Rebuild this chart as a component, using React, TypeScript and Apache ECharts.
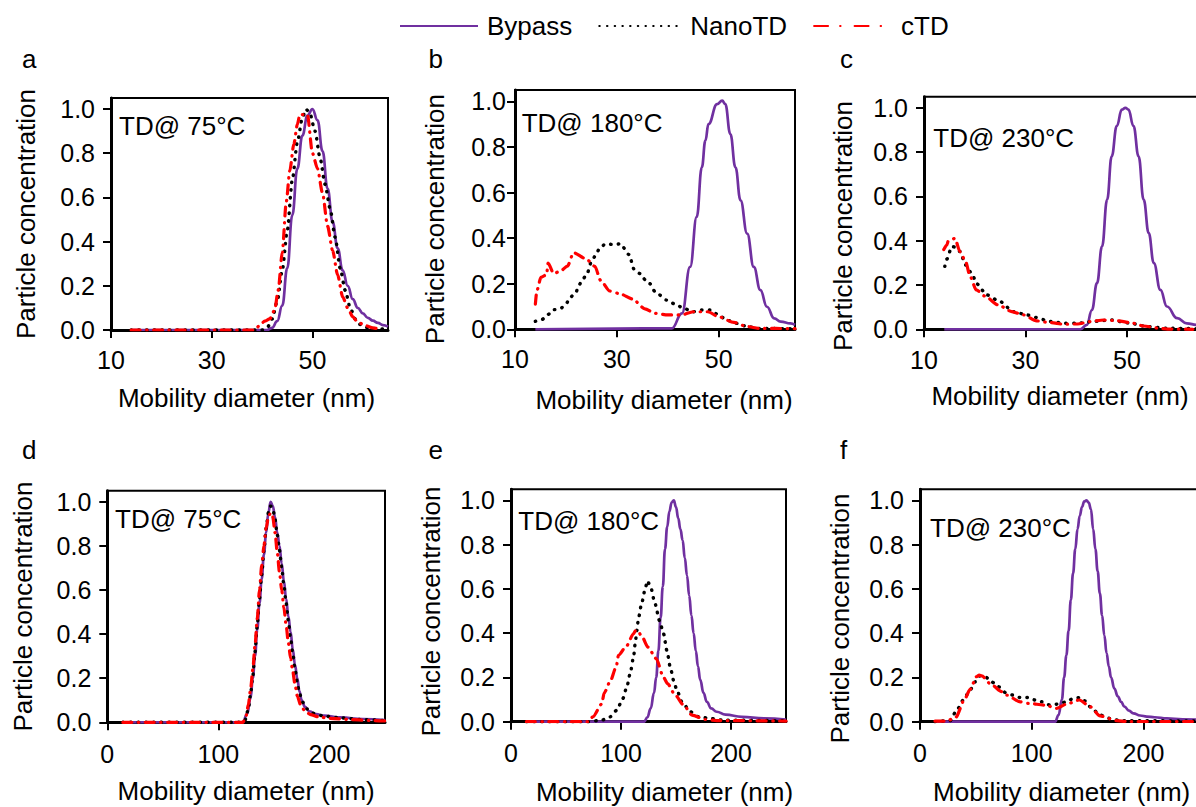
import React, { useEffect, useRef } from 'react';
import * as echarts from 'echarts';

const FONT = "'Liberation Sans', Arial, Helvetica, sans-serif";
const PURPLE = '#7030A0';
const RED = '#FF0000';

// ---- tick labels / categories ----
const seriesNames = ['Bypass', 'NanoTD', 'cTD'];
const topXTicks = [10, 30, 50];
const bottomXTicks = [0, 100, 200];
const yTicks = [0, 0.2, 0.4, 0.6, 0.8, 1.0];
const panelLetters = ['a', 'b', 'c', 'd', 'e', 'f'];
const panelNotes = ['TD@ 75°C', 'TD@ 180°C', 'TD@ 230°C', 'TD@ 75°C', 'TD@ 180°C', 'TD@ 230°C'];
const xTitle = 'Mobility diameter (nm)';
const yTitle = 'Particle concentration';

// ---- panel a (TD 75°C, ~50 nm) ----
const bypassA = [[14,0],[41,0],[42,0.01],[43,0.04],[44,0.11],[45,0.28],[46,0.52],[47,0.73],[48,0.88],[49,0.97],[50,1.0],[51,0.95],[52,0.81],[53,0.64],[54,0.49],[55,0.37],[56,0.27],[57,0.2],[58,0.14],[59,0.1],[60,0.075],[61,0.055],[62,0.042],[63,0.032],[64,0.022],[65,0.015]];
const nanoA = [[14,0],[40,0],[41,0.01],[42,0.05],[43,0.13],[44,0.27],[45,0.45],[46,0.68],[47,0.85],[48,0.96],[48.7,1.0],[49.5,0.98],[50.5,0.9],[51.5,0.78],[52.5,0.66],[53.5,0.55],[54.5,0.42],[55.5,0.28],[56.5,0.18],[57.5,0.1],[58.5,0.05],[59.5,0.025],[61,0.01],[63,0.005],[65,0.003]];
const ctdA = [[14,0],[38.5,0],[39.5,0.02],[40.5,0.04],[41.5,0.05],[42.5,0.09],[43.2,0.18],[44,0.35],[44.8,0.58],[45.5,0.72],[46.3,0.84],[47,0.93],[47.5,0.975],[49,0.975],[50,0.8],[51,0.73],[52,0.62],[53,0.47],[54,0.36],[55,0.25],[56,0.15],[57,0.1],[58,0.06],[59,0.035],[60.5,0.02],[62,0.01],[63,0.005]];

// ---- panel b (TD 180°C, ~50 nm) ----
const bypassB = [[14,0],[40.8,0.004],[42.8,0.07],[44.4,0.274],[45.7,0.493],[46.7,0.711],[47.4,0.828],[48,0.9],[49.7,0.988],[50.7,1.003],[51.3,0.988],[52.3,0.857],[53.3,0.711],[54.3,0.566],[55.6,0.42],[56.9,0.274],[58.2,0.172],[59.5,0.099],[60.9,0.048],[62.2,0.034],[64.1,0.026],[65,0.019]];
const nanoB = [[14,0.035],[15.3,0.043],[16.4,0.064],[17.6,0.086],[18.9,0.09],[20.1,0.114],[20.8,0.14],[21.9,0.158],[22.5,0.19],[23.2,0.217],[24.1,0.24],[25,0.296],[25.8,0.323],[26.6,0.355],[27.8,0.375],[29.3,0.372],[30.7,0.375],[32.4,0.328],[33.4,0.263],[34.6,0.244],[35.6,0.217],[36.5,0.2],[37.5,0.165],[39.8,0.128],[41.8,0.106],[43.1,0.092],[45,0.077],[46.7,0.085],[48.4,0.085],[50,0.063],[51.6,0.04],[53.6,0.026],[55.6,0.012],[57.9,0.004],[65,0.002]];
const ctdB = [[14,0.11],[14.3,0.17],[15.1,0.228],[16.2,0.24],[16.5,0.29],[17.6,0.245],[18.9,0.255],[20.3,0.277],[21.5,0.336],[23.9,0.31],[25.7,0.276],[26.8,0.215],[28.6,0.168],[30.6,0.156],[33.1,0.133],[35.5,0.09],[37.5,0.07],[40,0.063],[42.7,0.063],[45,0.077],[47.9,0.077],[50,0.055],[53,0.03],[55.6,0.012],[58,0.004],[65,0.003]];

// ---- panel c (TD 230°C, ~50 nm) ----
const bypassC = [[14,0],[40.8,0],[42.1,0.02],[43.1,0.087],[44.1,0.208],[45.1,0.374],[46.1,0.585],[47,0.781],[48,0.917],[49,0.992],[49.7,1.0],[50.3,0.992],[51.3,0.917],[52.3,0.781],[53.3,0.585],[54.3,0.434],[55.3,0.299],[56.6,0.178],[57.9,0.103],[59.9,0.05],[61.8,0.027],[63.8,0.02],[65,0.018]];
const nanoC = [[14.1,0.284],[14.5,0.317],[15.5,0.374],[16.3,0.37],[17.1,0.351],[18.2,0.29],[19.4,0.253],[20.4,0.205],[22.4,0.155],[25,0.125],[27.6,0.08],[30.3,0.065],[31.9,0.054],[34.9,0.035],[37.8,0.027],[40.1,0.027],[43.4,0.035],[45.4,0.04],[47,0.042],[48.7,0.035],[50.7,0.027],[54,0.012],[57.9,0.005],[65,0.002]];
const ctdC = [[13.9,0.36],[14.5,0.38],[14.8,0.4],[16.1,0.41],[17.1,0.35],[18.2,0.306],[19.1,0.238],[20.3,0.178],[22,0.15],[24.6,0.11],[27.3,0.08],[29.6,0.065],[32.2,0.038],[34.9,0.03],[37.5,0.023],[40.3,0.024],[42.8,0.035],[45.4,0.042],[48,0.039],[50.7,0.03],[53.3,0.015],[56.3,0.005],[58,0.001],[63,0]];

// ---- panel d (TD 75°C, ~150 nm) ----
const bypassD = [[14,0],[122,0],[126,0.04],[129,0.11],[131,0.2],[133,0.3],[135,0.42],[137,0.54],[139,0.65],[141,0.76],[143,0.86],[145,0.95],[147,1.0],[149,0.98],[151,0.93],[153,0.86],[155,0.8],[157,0.72],[159,0.64],[161,0.56],[163,0.48],[165,0.41],[167,0.33],[169,0.26],[171,0.2],[173,0.14],[175,0.1],[178,0.07],[182,0.05],[188,0.037],[195,0.03],[210,0.022],[230,0.015],[250,0.01]];
const nanoD = [[14,0],[120,0],[124,0.01],[127,0.06],[129,0.13],[131,0.21],[133,0.32],[135,0.44],[137,0.56],[139,0.67],[141,0.78],[143,0.88],[145,0.95],[147,0.98],[149,0.97],[151,0.92],[153,0.85],[155,0.78],[157,0.7],[159,0.62],[161,0.54],[163,0.46],[165,0.38],[167,0.31],[169,0.24],[171,0.18],[173,0.13],[176,0.09],[180,0.06],[186,0.04],[195,0.028],[210,0.02],[230,0.012],[250,0.008]];
const ctdD = [[14,0],[122,0],[125,0.03],[127,0.08],[129,0.15],[131,0.24],[133,0.35],[135,0.47],[137,0.6],[139,0.71],[141,0.8],[143,0.88],[145,0.93],[147,0.95],[149,0.93],[151,0.86],[153,0.77],[155,0.68],[157,0.6],[159,0.52],[161,0.44],[163,0.36],[165,0.29],[167,0.23],[169,0.17],[171,0.12],[174,0.08],[178,0.05],[183,0.035],[190,0.025],[200,0.018],[220,0.012],[240,0.008],[250,0.006]];

// ---- panel e (TD 180°C, ~150 nm) ----
const bypassE = [[14,0],[121,0],[124,0.02],[127,0.06],[130,0.13],[132,0.2],[134,0.32],[136,0.47],[138,0.61],[140,0.78],[142,0.88],[144,0.95],[146,0.99],[148,1.0],[150,0.97],[152,0.92],[154,0.87],[156,0.82],[158,0.74],[160,0.66],[162,0.57],[164,0.48],[166,0.4],[168,0.32],[170,0.25],[172,0.19],[175,0.13],[178,0.09],[182,0.06],[187,0.045],[195,0.032],[210,0.022],[230,0.015],[250,0.01]];
const nanoE = [[14,0],[70,0],[82.5,0.007],[90.1,0.022],[96.2,0.052],[101.7,0.105],[105.3,0.157],[108.3,0.217],[111.4,0.292],[112.9,0.352],[114.4,0.412],[116,0.472],[119,0.54],[122,0.6],[124,0.637],[127,0.607],[131,0.532],[135,0.457],[138.7,0.397],[141.7,0.322],[144.8,0.247],[147.8,0.187],[150.8,0.142],[155.4,0.09],[163,0.045],[170.6,0.022],[181,0.015],[193,0.007],[250,0.004]];
const ctdE = [[14,0],[70,0],[74.4,0.022],[82.5,0.08],[84.7,0.13],[90,0.18],[95.6,0.247],[97.7,0.3],[104.7,0.34],[111.4,0.397],[113,0.41],[115,0.412],[119,0.385],[124.5,0.337],[132,0.285],[138.7,0.2],[142.3,0.172],[149.3,0.12],[156.9,0.075],[164.5,0.03],[176.6,0.01],[187,0.005],[250,0.003]];

// ---- panel f (TD 230°C, ~150 nm) ----
const bypassF = [[14,0],[121,0],[124,0.03],[127,0.1],[129,0.2],[131,0.3],[133,0.41],[135,0.55],[137,0.67],[139,0.78],[141,0.87],[143,0.93],[145,0.97],[147,0.995],[149,1.0],[151,0.99],[153,0.96],[155,0.87],[157,0.78],[159,0.68],[161,0.58],[163,0.48],[165,0.39],[167,0.31],[169,0.25],[171,0.2],[174,0.15],[177,0.115],[180,0.09],[183,0.068],[187,0.05],[191,0.038],[197,0.028],[203,0.023],[210,0.02],[221,0.015],[235,0.011],[250,0.008]];
const nanoF = [[13.4,0],[27,0.005],[33,0.053],[38.8,0.098],[44.8,0.143],[49.3,0.18],[53.7,0.207],[58.2,0.204],[64.2,0.18],[70.1,0.158],[77.6,0.128],[83.6,0.12],[89.6,0.109],[97,0.109],[103,0.098],[109,0.09],[116.4,0.075],[123.9,0.08],[131.3,0.09],[137.3,0.106],[143.3,0.109],[147.8,0.094],[153.7,0.06],[161.2,0.03],[170,0.015],[179,0.005],[250,0.003]];
const ctdF = [[13.4,0.003],[24,0.003],[32,0.02],[40.3,0.105],[44.8,0.146],[50.7,0.204],[53,0.21],[55.2,0.207],[64.2,0.166],[73,0.136],[77.6,0.12],[89.6,0.09],[97,0.083],[112,0.075],[122.4,0.06],[131.3,0.08],[142.7,0.098],[152.2,0.068],[161.2,0.026],[176,0.005],[185,0.001],[250,0.001]];

const panelData = [
  [bypassA, nanoA, ctdA],
  [bypassB, nanoB, ctdB],
  [bypassC, nanoC, ctdC],
  [bypassD, nanoD, ctdD],
  [bypassE, nanoE, ctdE],
  [bypassF, nanoF, ctdF],
];

// ---- layout (pixels) ----
const layout = [
  { left: 111, top: 98, width: 277, height: 232, xMin: 10, xMax: 65, xTicks: topXTicks, yMargin: 16, xMargin: 17, yNameGap: 72, yShift: 0, xNameGap: 55, xShift: -3, lx: 22, ly: 59, ax: 119, ay: 126 },
  { left: 515, top: 90, width: 280, height: 239.3, xMin: 10, xMax: 65, xTicks: topXTicks, yMargin: 9, xMargin: 17, yNameGap: 67, yShift: 9.5, xNameGap: 58, xShift: 9, lx: 428.5, ly: 59, ax: 521.7, ay: 122.6 },
  { left: 924, top: 96.7, width: 279, height: 232.6, xMin: 10, xMax: 65, xTicks: topXTicks, yMargin: 16, xMargin: 18, yNameGap: 68, yShift: 13, xNameGap: 54, xShift: -3.5, lx: 840, ly: 59, ax: 933.3, ay: 137.6 },
  { left: 107.3, top: 490.7, width: 277.7, height: 231.6, xMin: 0, xMax: 250, xTicks: bottomXTicks, yMargin: 16, xMargin: 19, yNameGap: 71.5, yShift: 0, xNameGap: 56, xShift: 0, lx: 22, ly: 449.5, ax: 115, ay: 519.3 },
  { left: 511, top: 489.3, width: 275, height: 232.4, xMin: 0, xMax: 250, xTicks: bottomXTicks, yMargin: 16, xMargin: 18.5, yNameGap: 57, yShift: 6, xNameGap: 57, xShift: 16, lx: 428.5, ly: 449.5, ax: 518.3, ay: 521 },
  { left: 920, top: 489.3, width: 279.3, height: 232.4, xMin: 0, xMax: 250, xTicks: bottomXTicks, yMargin: 16, xMargin: 18.5, yNameGap: 66.7, yShift: 13, xNameGap: 57.5, xShift: 2, lx: 840, ly: 449.5, ax: 930, ay: 527.6 },
];
layout[4].yNameGap = 67.5;

const lineStyles: any[] = [
  { color: PURPLE, width: 2.7, type: 'solid' },
  { color: '#000000', width: 3.4, type: [0.5, 7.2], cap: 'round' },
  { color: RED, width: 3.2, type: [9, 6.5, 0.5, 6.5], cap: 'round' },
];
const smoothing = [0.45, 0.25, 0.25];

function buildOption() {
  const grid: any[] = [];
  const xAxis: any[] = [];
  const yAxis: any[] = [];
  const series: any[] = [];
  const graphic: any[] = [];

  layout.forEach((p, i) => {
    grid.push({
      left: p.left, top: p.top, width: p.width, height: p.height,
      show: true, borderColor: '#000', borderWidth: 2, backgroundColor: 'transparent',
      containLabel: false, outerBoundsMode: 'none',
    });
    const xPad = p.xShift >= 0 ? [0, 0, 0, 2 * p.xShift] : [0, -2 * p.xShift, 0, 0];
    xAxis.push({
      type: 'value', gridIndex: i, min: p.xMin, max: p.xMax,
      axisLine: { show: true, onZero: false, lineStyle: { color: '#000', width: 3 } },
      axisTick: { show: true, length: 8, inside: false, customValues: p.xTicks, lineStyle: { color: '#000', width: 2 } },
      axisLabel: { show: true, customValues: p.xTicks, fontSize: 25, color: '#000', fontFamily: FONT, margin: p.xMargin },
      splitLine: { show: false },
      name: xTitle, nameLocation: 'middle', nameGap: p.xNameGap,
      nameTextStyle: { fontSize: 26, color: '#000', fontFamily: FONT, padding: xPad },
    });
    const yPad = p.yShift >= 0 ? [0, 2 * p.yShift, 0, 0] : [0, 0, 0, -2 * p.yShift];
    yAxis.push({
      type: 'value', gridIndex: i, min: 0, max: 1.05,
      axisLine: { show: true, onZero: false, lineStyle: { color: '#000', width: 3 } },
      axisTick: { show: true, length: 8, inside: false, customValues: yTicks, lineStyle: { color: '#000', width: 2 } },
      axisLabel: {
        show: true, customValues: yTicks, fontSize: 25, color: '#000', fontFamily: FONT, margin: p.yMargin,
        formatter: (v: number) => v.toFixed(1),
      },
      splitLine: { show: false },
      name: yTitle, nameLocation: 'middle', nameGap: p.yNameGap,
      nameTextStyle: { fontSize: 26, color: '#000', fontFamily: FONT, padding: yPad },
    });
    panelData[i].forEach((d, k) => {
      series.push({
        type: 'line', name: seriesNames[k], xAxisIndex: i, yAxisIndex: i,
        data: d, symbol: 'none', showSymbol: false, smooth: smoothing[k], smoothMonotone: 'x',
        lineStyle: lineStyles[k], itemStyle: { color: lineStyles[k].color },
        z: 2 + k, clip: true,
      });
    });
    graphic.push({
      type: 'text', left: p.lx, top: p.ly - 13,
      style: { text: panelLetters[i], fontSize: 26, fontFamily: FONT, fill: '#000' },
    });
    graphic.push({
      type: 'text', left: p.ax, top: p.ay - 13,
      style: { text: panelNotes[i], fontSize: 26, fontFamily: FONT, fill: '#000' },
    });
  });

  return {
    animation: false,
    backgroundColor: '#ffffff',
    textStyle: { fontFamily: FONT },
    legend: {
      show: true, top: 8, left: 394, itemWidth: 78, itemHeight: 28, itemGap: 26,
      itemStyle: { opacity: 0, color: 'transparent', borderWidth: 0 },
      textStyle: { fontSize: 26, color: '#000', fontFamily: FONT },
      data: [
        { name: 'Bypass', textStyle: { padding: [0, 0, 0, 4] } },
        { name: 'NanoTD', textStyle: { padding: [0, 0, 0, 8] } },
        { name: 'cTD', lineStyle: { type: [14, 12, 0.5, 14] }, textStyle: { padding: [0, 0, 0, 4] } },
      ],
    },
    grid, xAxis, yAxis, series, graphic,
  };
}

export default function App() {
  const ref = useRef<HTMLDivElement>(null);
  useEffect(() => {
    if (!ref.current) return;
    const chart = echarts.init(ref.current, undefined, { renderer: 'svg' });
    chart.setOption(buildOption() as any);
    return () => chart.dispose();
  }, []);
  return (
    <div
      ref={ref}
      style={{ position: 'absolute', left: 0, top: 0, width: 1196, height: 807, background: '#fff', overflow: 'hidden' }}
    />
  );
}
